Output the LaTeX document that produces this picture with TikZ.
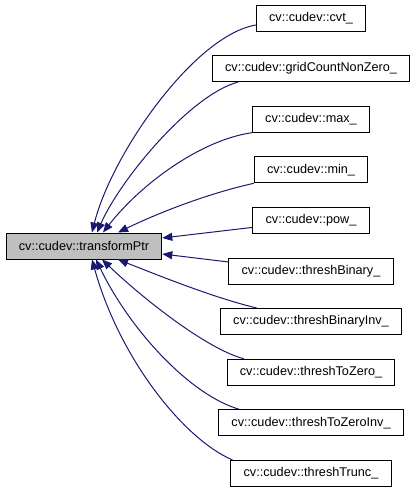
\documentclass[tikz,border=0pt]{standalone}
\usepackage{fontspec}
\setmainfont{Liberation Sans}
\usetikzlibrary{arrows.meta, positioning}

\definecolor{edgeblue}{RGB}{25,25,112}
\definecolor{boxgray}{RGB}{191,191,191}

\begin{document}
\begin{tikzpicture}[
  x=0.75pt, y=-0.75pt,
  node distance=17.7pt,
  box/.style={rectangle, draw=black, line width=0.75pt, minimum height=19.5pt, inner xsep=9.5pt, fill=white, font=\fontsize{9.5}{11}\selectfont},
  mainbox/.style={box, fill=boxgray},
  arrow/.style={-{Triangle[length=7.5pt,width=6pt]}, draw=edgeblue, line width=0.75pt}
]
\useasboundingbox (0,0) rectangle (417,493);

\node (main) [mainbox] at (84,246) {cv::cudev::transformPtr};

\node (cvt) [box] at (311,18) {cv::cudev::cvt\_};
\node (grid) [box, below=of cvt] {cv::cudev::gridCountNonZero\_};
\node (max) [box, below=of grid] {cv::cudev::max\_};
\node (min) [box, below=of max] {cv::cudev::min\_};
\node (pow) [box, below=of min] {cv::cudev::pow\_};
\node (tb) [box, below=of pow] {cv::cudev::threshBinary\_};
\node (tbi) [box, below=of tb] {cv::cudev::threshBinaryInv\_};
\node (ttz) [box, below=of tbi] {cv::cudev::threshToZero\_};
\node (ttzi) [box, below=of ttz] {cv::cudev::threshToZeroInv\_};
\node (ttr) [box, below=of ttzi] {cv::cudev::threshTrunc\_};

\draw [arrow] ([yshift=-5.25pt]cvt.west) .. controls (195,35) and (112,153) .. ([xshift=6pt]main.north);
\draw [arrow] ([xshift=19.5pt]grid.south west) .. controls (190,95) and (120,180) .. ([xshift=9.75pt]main.north);
\draw [arrow] (max.south west) .. controls (200,140) and (140,185) .. ([xshift=14.25pt]main.north);
\draw [arrow] (min.south west) .. controls (210,193) and (160,212) .. ([xshift=25.5pt]main.north);
\draw [arrow] ([yshift=-5.25pt]pow.west) -- ([yshift=6pt]main.east);
\draw [arrow] ([yshift=6.75pt]tb.west) -- ([yshift=-6pt]main.east);
\draw [arrow] ([xshift=27.75pt]tbi.north west) .. controls (215,298) and (165,278) .. ([xshift=25.5pt]main.south);
\draw [arrow] ([xshift=12.75pt]ttz.north west) .. controls (210,350) and (150,305) .. ([xshift=13.5pt]main.south);
\draw [arrow] ([xshift=15.75pt]ttzi.north west) .. controls (190,395) and (130,330) .. ([xshift=9pt]main.south);
\draw [arrow] ([xshift=1.5pt]ttr.north west) .. controls (185,440) and (120,360) .. ([xshift=6pt]main.south);

\end{tikzpicture}
\end{document}
